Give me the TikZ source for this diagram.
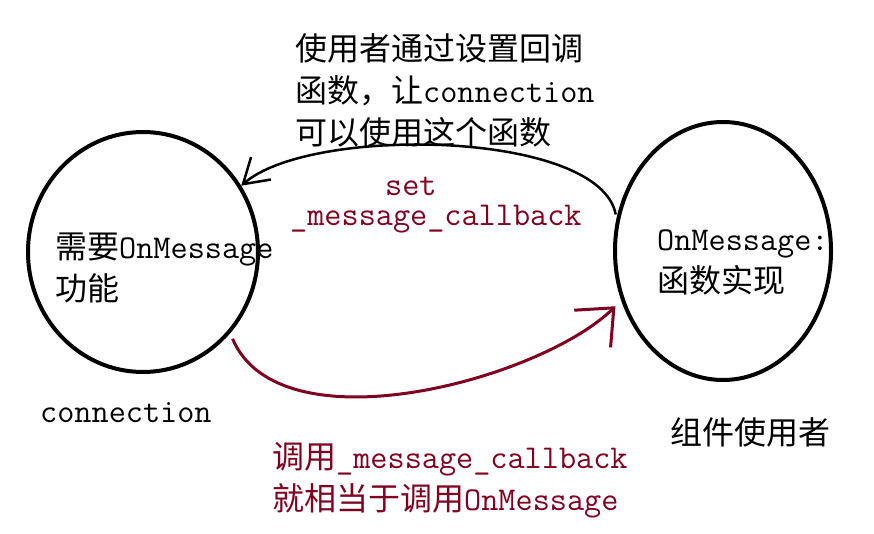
\documentclass[tikz,border=0pt]{standalone}
\usepackage{fontspec}
\setmainfont{Noto Sans CJK SC}
\setmonofont[Scale=1.04]{Latin Modern Mono}
\usetikzlibrary{shapes.geometric, arrows.meta}
\definecolor{callred}{HTML}{800020}

\begin{document}
\begin{tikzpicture}[
    x=1pt, y=-1pt,
    bubble/.style={ellipse, draw=black, line width=4pt, inner sep=0pt},
    note/.style={font=\fontsize{32}{42}\selectfont, align=left, anchor=west, inner sep=0pt},
    flow/.style={line width=2.5pt, -{Straight Barb[length=24pt, width=30pt]}}
]
\useasboundingbox (0,0) rectangle (874,534);

% the two parties
\node[bubble, minimum width=230pt, minimum height=240pt] at (143,252) (conn) {};
\node[bubble, minimum width=216pt, minimum height=258pt] at (723,251) (user) {};

% texts inside and below
\node[note] at (55,268) (needtext) {需要\texttt{OnMessage}\\功能};
\node[note] at (657,262) (impltext) {\texttt{OnMessage:}\\函数实现};
\node[note] at (40,413) (connname) {\texttt{connection}};
\node[note] at (670,432) (username) {组件使用者};

% notes on the arrows
\node[note] at (295,90) (setnote)
    {使用者通过设置回调\\函数，让\texttt{connection}\\可以使用这个函数};
\node[note, text=callred, font=\fontsize{32}{30}\selectfont] at (290,205) (setlabel)
    {\hspace{95pt}\texttt{set}\\\texttt{\_message\_callback}};
\node[note, text=callred] at (272,480) (callnote)
    {调用\texttt{\_message\_callback}\\就相当于调用\texttt{OnMessage}};

% arrows
\draw[flow, shorten <=4pt] (user.163) .. controls (600,130) and (310,125) .. (conn.34);
\draw[flow, callred, line width=3pt, -{Straight Barb[length=30pt, width=52pt]},
      shorten <=6pt, shorten >=8pt]
    (conn.-43) .. controls (280,450) and (540,380) .. (user.206);

\end{tikzpicture}
\end{document}
